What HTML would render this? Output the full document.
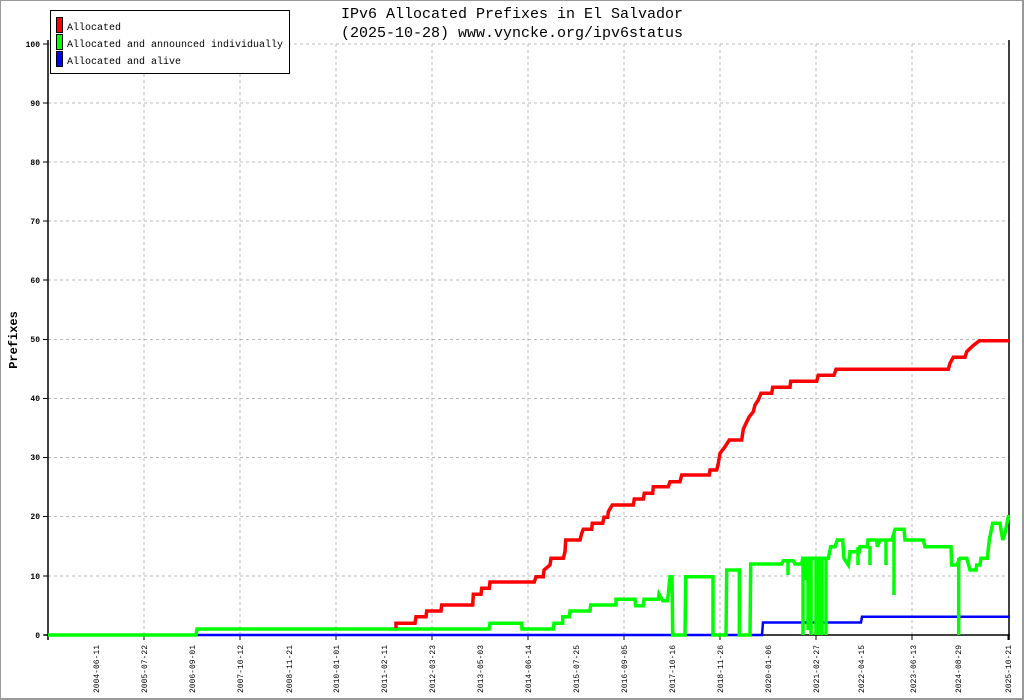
<!DOCTYPE html>
<html><head><meta charset="utf-8"><style>
body{margin:0;background:#fff}
svg{display:block}
text{font-family:"Liberation Mono","DejaVu Sans Mono",monospace}
</style></head><body>
<svg width="1024" height="700" xmlns="http://www.w3.org/2000/svg">
<rect x="0.5" y="0.5" width="1023" height="699" fill="#fff" stroke="#999" stroke-width="1"/>
<rect x="1022" y="0" width="2" height="700" fill="#999"/>
<rect x="0" y="698" width="1024" height="2" fill="#999"/>
<g stroke="#bbb" stroke-width="1" stroke-dasharray="3,3">
<line x1="48" y1="44" x2="1009" y2="44"/><line x1="48" y1="103" x2="1009" y2="103"/>
<line x1="48" y1="162" x2="1009" y2="162"/><line x1="48" y1="221" x2="1009" y2="221"/>
<line x1="48" y1="280" x2="1009" y2="280"/><line x1="48" y1="339.5" x2="1009" y2="339.5"/>
<line x1="48" y1="398.5" x2="1009" y2="398.5"/><line x1="48" y1="457.5" x2="1009" y2="457.5"/>
<line x1="48" y1="516.5" x2="1009" y2="516.5"/><line x1="48" y1="576" x2="1009" y2="576"/>
<line x1="144" y1="44" x2="144" y2="635"/><line x1="240" y1="44" x2="240" y2="635"/>
<line x1="336" y1="44" x2="336" y2="635"/><line x1="432" y1="44" x2="432" y2="635"/>
<line x1="528" y1="44" x2="528" y2="635"/><line x1="624" y1="44" x2="624" y2="635"/>
<line x1="720" y1="44" x2="720" y2="635"/><line x1="816" y1="44" x2="816" y2="635"/>
<line x1="912" y1="44" x2="912" y2="635"/>
</g>
<g stroke="#000" stroke-width="1.5">
<line x1="48" y1="40" x2="48" y2="640"/><line x1="44" y1="635" x2="1010" y2="635"/>
<line x1="1009" y1="40" x2="1009" y2="640"/>
</g>
<g stroke="#000" stroke-width="1">
<line x1="43" y1="44" x2="48" y2="44"/><line x1="43" y1="103" x2="48" y2="103"/><line x1="43" y1="162" x2="48" y2="162"/>
<line x1="43" y1="221" x2="48" y2="221"/><line x1="43" y1="280" x2="48" y2="280"/><line x1="43" y1="339.5" x2="48" y2="339.5"/>
<line x1="43" y1="398.5" x2="48" y2="398.5"/><line x1="43" y1="457.5" x2="48" y2="457.5"/><line x1="43" y1="516.5" x2="48" y2="516.5"/>
<line x1="43" y1="576" x2="48" y2="576"/><line x1="43" y1="635" x2="48" y2="635"/>
<line x1="48" y1="635" x2="48" y2="640"/><line x1="144" y1="635" x2="144" y2="640"/><line x1="240" y1="635" x2="240" y2="640"/>
<line x1="336" y1="635" x2="336" y2="640"/><line x1="432" y1="635" x2="432" y2="640"/><line x1="528" y1="635" x2="528" y2="640"/>
<line x1="624" y1="635" x2="624" y2="640"/><line x1="720" y1="635" x2="720" y2="640"/><line x1="816" y1="635" x2="816" y2="640"/>
<line x1="912" y1="635" x2="912" y2="640"/><line x1="1008" y1="635" x2="1008" y2="640"/>
</g>
<g font-size="8" font-weight="bold" text-anchor="end" fill="#000">
<text x="40" y="47">100</text><text x="40" y="106">90</text><text x="40" y="165">80</text><text x="40" y="224">70</text>
<text x="40" y="283">60</text><text x="40" y="342">50</text><text x="40" y="401">40</text><text x="40" y="460">30</text>
<text x="40" y="519">20</text><text x="40" y="579">10</text><text x="40" y="638">0</text>
</g>
<g font-size="8" text-anchor="end" fill="#000">
<text transform="translate(99,645) rotate(-90)">2004-06-11</text>
<text transform="translate(147,645) rotate(-90)">2005-07-22</text>
<text transform="translate(195,645) rotate(-90)">2006-09-01</text>
<text transform="translate(243,645) rotate(-90)">2007-10-12</text>
<text transform="translate(292,645) rotate(-90)">2008-11-21</text>
<text transform="translate(339,645) rotate(-90)">2010-01-01</text>
<text transform="translate(387,645) rotate(-90)">2011-02-11</text>
<text transform="translate(435,645) rotate(-90)">2012-03-23</text>
<text transform="translate(483,645) rotate(-90)">2013-05-03</text>
<text transform="translate(531,645) rotate(-90)">2014-06-14</text>
<text transform="translate(579,645) rotate(-90)">2015-07-25</text>
<text transform="translate(627,645) rotate(-90)">2016-09-05</text>
<text transform="translate(675,645) rotate(-90)">2017-10-16</text>
<text transform="translate(723,645) rotate(-90)">2018-11-26</text>
<text transform="translate(771,645) rotate(-90)">2020-01-06</text>
<text transform="translate(819,645) rotate(-90)">2021-02-27</text>
<text transform="translate(864,645) rotate(-90)">2022-04-15</text>
<text transform="translate(916,645) rotate(-90)">2023-06-13</text>
<text transform="translate(961,645) rotate(-90)">2024-08-29</text>
<text transform="translate(1011,645) rotate(-90)">2025-10-21</text>
</g>
<text transform="translate(17,340) rotate(-90)" font-size="12" font-weight="bold" text-anchor="middle">Prefixes</text>
<text x="512" y="18" font-size="15" text-anchor="middle">IPv6 Allocated Prefixes in El Salvador</text>
<text x="512" y="37" font-size="15" text-anchor="middle">(2025-10-28) www.vyncke.org/ipv6status</text>

<polyline fill="none" stroke="#0000ff" stroke-width="2.5" points="48,635 762,635 763,622.5 861,622.5 862,616.7 1010,616.7"/>
<g fill="none" stroke="#00ff00" stroke-width="3.5" stroke-linejoin="miter">
<polyline points="48,635 196,635 197,629 489,629 490,623.3 521.7,623.3 522,629 553.3,629 554,623.3 562.7,623.3 562.7,616.7 569.3,616.7 570,611 590,611 590.7,605 616,605 616,599.3 635,599.3 635.7,605.7 643.3,605.7 644,599.3 658.3,599.3 659,594 662.7,600.7 667.3,600.7 668.3,594 670,576.7 672,576.7 672.7,635 685,635 685.7,576.7 713,576.7 713,635 726,635 726.7,570 739.3,570 739.3,635 750,635 750.7,564 781.7,564 783.3,560.7 793.3,560.7 795,564 801.7,564 802.7,558.3 828.3,558.3 830.7,546.7 835,546.7 837.3,540 842.7,540 844,558.3 848.3,565 850,551.7 859.3,551.7 860,546.7 867.3,546.7 868,540 876.7,540 877.3,546.7 880,540 891.7,540 893.3,535 895,529.3 904,529.3 905,540 923.3,540 925,546.7 951,546.7 951.7,565 956.7,565 960,558.3 966.7,558.3 970,570 976,570 976.7,565 980,565 981,558.3 987.3,558.3 989.3,540 992.7,523.3 1000,523.3 1002.7,540 1005,533.3 1008.3,516.7 1010,516.7"/>
<path d="M803 560V635M808 560V630M811 560V635M816 560V635M819 560V635M822 560V635M826 560V635M805 560V580M858 547V565M870 546V565M886 540V565M894 535V595M958.7 558V635M788 561V575"/>
</g>
<polyline fill="none" stroke="#ff0000" stroke-width="3.5" points="396,628 396,623.3 415,623.3 416,616.7 426,616.7 426.7,611 441,611 441.7,605 472.7,605 473.3,594.3 481,594.3 481.7,588.3 489.3,588.3 490,582 534.3,582 536,576.7 543.3,576.7 544,570 550,565 551,558.3 563.3,558.3 565,551.7 565.7,540 580,540 581.7,533.3 583.3,529.3 591.7,529.3 592.3,523.3 602.7,523.3 604,517.3 607.7,517.3 608.3,511.7 612.3,505 633.3,505 634.3,499 643.3,499 644.3,493.3 652.7,493.3 653.3,486.7 668.3,486.7 670,481.7 680,481.7 681.7,475 709.3,475 710,470 716.7,470 718.3,463.3 720,453.3 725,446.7 729.3,440 741.7,440 743.3,429.3 746,423.3 749.3,416.7 753.3,411.7 755,405 758.3,400 761,393.3 771.7,393.3 772.7,387.3 790,387.3 790.7,381.3 816.7,381.3 818.3,375.3 834,375.3 836,369.3 948.3,369.3 950,363.3 953.3,357.3 965,357.3 966.7,351.7 972.7,346 979.3,340.7 1010,340.7"/>
<rect x="50.5" y="10.5" width="239" height="63" fill="#fff" stroke="#000" stroke-width="1"/>
<rect x="56.5" y="17.5" width="6" height="15" fill="#ff0000" stroke="#000"/>
<rect x="56.5" y="34.5" width="6" height="15" fill="#00ff00" stroke="#000"/>
<rect x="56.5" y="51.5" width="6" height="15" fill="#0000ff" stroke="#000"/>
<g font-size="10" fill="#000">
<text x="67" y="30">Allocated</text>
<text x="67" y="47">Allocated and announced individually</text>
<text x="67" y="64">Allocated and alive</text>
</g>
</svg>
</body></html>
